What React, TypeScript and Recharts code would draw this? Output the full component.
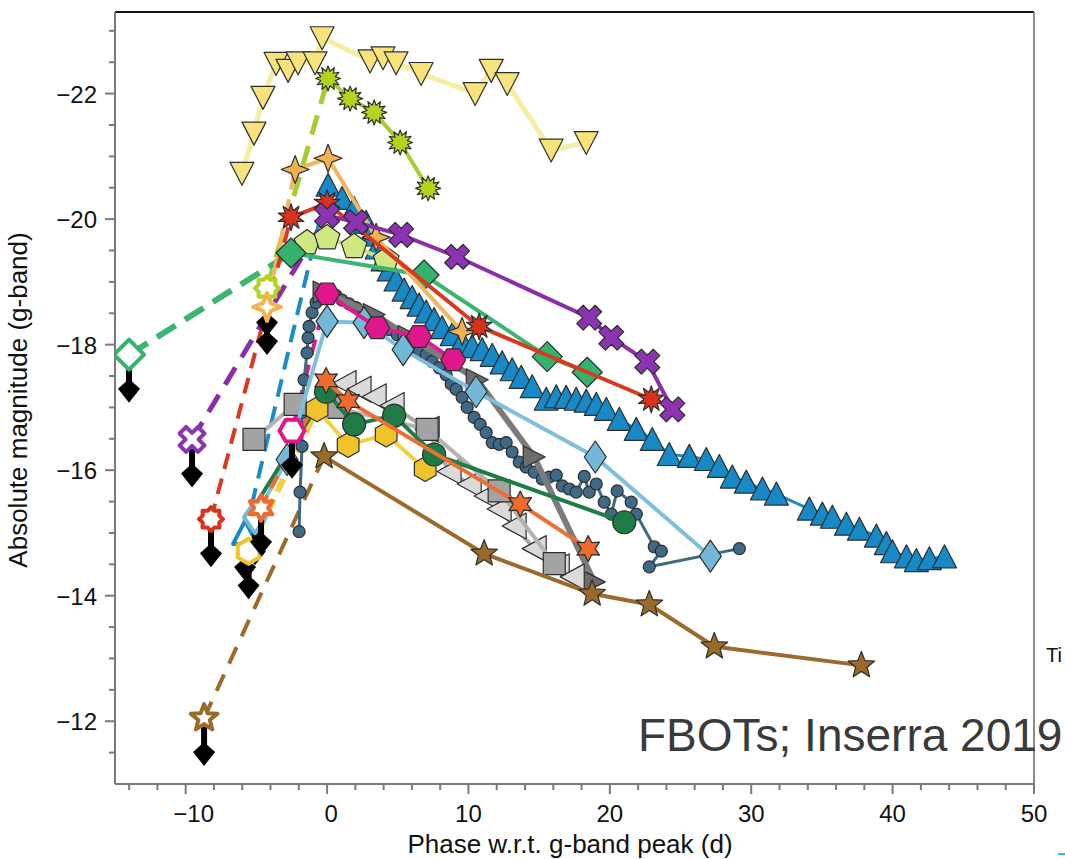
import React from 'react';
import { ScatterChart, Scatter, XAxis, YAxis, ReferenceLine } from 'recharts';

// phase (d) vs absolute g magnitude
const yellowTri = [[-6.02, -20.73], [-5.17, -21.37], [-4.53, -21.94], [-3.61, -22.48], [-2.76, -22.37], [-2.05, -22.49], [-0.85, -22.49], [-0.35, -22.89], [3.04, -22.52], [3.96, -22.57], [4.88, -22.49], [6.65, -22.32], [10.47, -22.0], [11.61, -22.37], [12.74, -22.16], [15.85, -21.1], [18.33, -21.22]];

const limeStarLimit = [[-4.25, -18.9]];
const limeStar = [[0.07, -22.24], [1.63, -21.92], [3.33, -21.7], [5.17, -21.22], [7.15, -20.49]];

const orangeStarLimit = [[-4.25, -18.6]];
const orangeStar = [[-2.26, -20.79], [0.07, -20.97], [3.47, -19.71], [9.55, -18.21]];

const blueTriLimit = [[-5.8, -15.0]];
const blueTri = [[0.07, -20.54], [1.06, -20.33], [1.91, -20.17], [2.76, -19.95], [3.11, -19.75], [3.54, -19.54], [3.96, -19.35], [4.39, -19.19], [4.88, -19.03], [5.45, -18.87], [6.02, -18.75], [6.51, -18.63], [7.01, -18.52], [7.57, -18.4], [8.14, -18.27], [8.85, -18.16], [9.55, -18.05], [10.26, -17.97], [10.97, -17.92], [11.68, -17.83], [12.38, -17.71], [13.09, -17.6], [13.73, -17.48], [14.51, -17.33], [15.5, -17.13], [16.21, -17.17], [16.91, -17.16], [17.62, -17.13], [18.33, -17.1], [19.04, -17.05], [19.75, -16.97], [20.67, -16.81], [21.87, -16.65], [23.0, -16.49], [24.2, -16.25], [25.62, -16.22], [26.82, -16.17], [27.74, -16.06], [28.66, -15.89], [29.65, -15.81], [30.79, -15.7], [31.78, -15.62], [34.11, -15.38], [35.03, -15.3], [35.74, -15.25], [36.73, -15.14], [37.65, -15.06], [38.85, -14.95], [39.56, -14.83], [39.99, -14.7], [40.98, -14.62], [41.68, -14.56], [42.6, -14.59], [43.67, -14.62]];

const redStarLimit = [[-8.21, -15.22]];
const redStar = [[-2.55, -20.03], [0.0, -20.25], [10.76, -18.29], [22.93, -17.13]];

const purpleXLimit = [[-9.55, -16.49]];
const purpleX = [[0.0, -20.06], [2.05, -19.95], [5.24, -19.75], [9.2, -19.4], [18.54, -18.43], [20.1, -18.11], [22.65, -17.73], [24.42, -16.97]];

const greenDiamondLimit = [[-14.01, -17.84]];
const greenDiamond = [[-2.55, -19.46], [6.86, -19.11], [15.57, -17.81], [18.4, -17.56]];

const palePentagon = [[-1.42, -19.62], [0.0, -19.7], [1.91, -19.56], [4.18, -19.35]];

const magentaHexLimit = [[-2.48, -16.63]];
const magentaHex = [[0.0, -18.81], [3.54, -18.27], [6.51, -18.13], [8.92, -17.76]];

const lightBlueLimit = [[-5.1, -15.25]];
const lightBlue = [[-2.83, -16.17], [0.0, -18.37], [2.62, -18.35], [5.38, -17.92], [10.54, -17.25], [18.97, -16.21], [27.11, -14.63]];

const slateDots = [[-1.98, -15.02], [-1.91, -15.65], [-1.77, -16.38], [-1.77, -16.92], [-1.63, -17.44], [-1.42, -17.87], [-1.34, -18.11], [-1.27, -18.29], [-1.06, -18.51], [-0.78, -18.67], [-0.35, -18.76], [0.14, -18.83], [0.64, -18.78], [1.06, -18.71], [1.56, -18.65], [2.05, -18.59], [2.62, -18.51], [3.18, -18.43], [3.75, -18.35], [4.39, -18.24], [4.95, -18.16], [5.45, -18.08], [6.02, -17.97], [6.51, -17.89], [7.01, -17.84], [7.43, -17.73], [7.93, -17.63], [8.42, -17.52], [8.78, -17.37], [9.13, -17.29], [9.55, -17.16], [9.91, -17.0], [10.4, -16.84], [10.83, -16.73], [11.25, -16.6], [11.68, -16.44], [12.17, -16.41], [12.67, -16.44], [13.09, -16.29], [13.59, -16.13], [14.08, -16.05], [14.65, -15.97], [15.22, -15.86], [15.71, -15.89], [16.21, -15.92], [16.63, -15.75], [17.13, -15.7], [17.62, -15.65], [18.19, -15.9], [18.54, -15.65], [19.04, -15.78], [19.6, -15.49], [20.1, -15.3], [20.52, -15.67], [21.51, -15.49], [21.87, -15.3], [23.14, -14.78], [23.64, -14.71], [22.79, -14.46], [29.16, -14.75]];

const darkGrayTri = [[-0.21, -18.84], [3.33, -18.48], [5.8, -18.13], [10.62, -17.44], [14.65, -16.21], [18.9, -14.22]];

const lightGrayTri = [[1.2, -17.38], [2.26, -17.29], [3.33, -17.17], [4.6, -17.03], [7.08, -16.65], [8.63, -15.98], [10.05, -15.78], [11.25, -15.59], [12.17, -15.38], [13.23, -15.11], [14.65, -14.75], [16.28, -14.46], [17.34, -14.3]];

const graySquare = [[-5.17, -16.49], [-2.26, -17.05], [0.5, -17.0], [7.08, -16.65], [12.17, -15.67], [16.07, -14.51]];

const orange6Limit = [[-4.67, -15.4]];
const orange6 = [[-0.07, -17.43], [1.49, -17.1], [13.66, -15.46], [18.47, -14.75]];

const darkGreenLead = [[-4.95, -15.49]];
const darkGreen = [[-0.07, -17.25], [1.91, -16.73], [4.74, -16.87], [7.57, -16.25], [21.02, -15.17]];

const goldHexLimit = [[-5.55, -14.71]];
const goldHex = [[-0.71, -16.97], [1.49, -16.4], [4.18, -16.57], [6.94, -16.02]];

const brownStarLimit = [[-8.7, -12.05]];
const brownStar = [[-0.21, -16.22], [11.11, -14.67], [18.75, -14.03], [22.79, -13.86], [27.39, -13.19], [37.79, -12.89]];

const X_TICKS = [-14, -12, -10, -8, -6, -4, -2, 0, 2, 4, 6, 8, 10, 12, 14, 16, 18, 20, 22, 24, 26, 28, 30, 32, 34, 36, 38, 40, 42, 44, 46, 48, 50];
const Y_TICKS = [-23, -22.5, -22, -21.5, -21, -20.5, -20, -19.5, -19, -18.5, -18, -17.5, -17, -16.5, -16, -15.5, -15, -14.5, -14, -13.5, -13, -12.5, -12, -11.5];

const FONT = '"Liberation Sans", Arial, Helvetica, sans-serif';
const OUTLINE = '#2e2e2e';

const toPts = (a: number[][]) => a.map(([x, y]) => ({ x, y }));

function ring(cx: number, cy: number, n: number, ro: number, ri: number | null, rot = -Math.PI / 2) {
  const count = ri == null ? n : n * 2;
  const out: string[] = [];
  for (let i = 0; i < count; i++) {
    const r = ri == null || i % 2 === 0 ? ro : ri;
    const a = rot + (i * Math.PI * 2) / count;
    out.push(`${cx + r * Math.cos(a)},${cy + r * Math.sin(a)}`);
  }
  return out.join(' ');
}

function crossPts(cx: number, cy: number, L: number, w: number) {
  const base = [[w, -L], [w, -w], [L, -w], [L, w], [w, w], [w, L], [-w, L], [-w, w], [-L, w], [-L, -w], [-w, -w], [-w, -L]];
  const c = Math.SQRT1_2;
  return base.map(([x, y]) => `${cx + (x - y) * c},${cy + (x + y) * c}`).join(' ');
}

function marker(kind: string, cx: number, cy: number, fill: string, stroke: string, sw: number) {
  const p = { fill, stroke, strokeWidth: sw, strokeLinejoin: 'round' as const };
  switch (kind) {
    case 'triDown': return <polygon points={`${cx - 12},${cy - 11} ${cx + 12},${cy - 11} ${cx},${cy + 12}`} {...p} />;
    case 'triUp': return <polygon points={`${cx},${cy - 12} ${cx + 12},${cy + 11} ${cx - 12},${cy + 11}`} {...p} />;
    case 'triLeft': return <polygon points={`${cx - 12},${cy} ${cx + 12},${cy - 13} ${cx + 12},${cy + 13}`} {...p} />;
    case 'triRight': return <polygon points={`${cx + 11},${cy} ${cx - 11},${cy - 11} ${cx - 11},${cy + 11}`} {...p} />;
    case 'star12': return <polygon points={ring(cx, cy, 12, 12.5, 7.5)} {...p} />;
    case 'star10': return <polygon points={ring(cx, cy, 10, 13.5, 7)} {...p} />;
    case 'star4': return <polygon points={ring(cx, cy, 4, 14, 5.5)} {...p} />;
    case 'star6': return <polygon points={ring(cx, cy, 6, 13, 7)} {...p} />;
    case 'star5': return <polygon points={ring(cx, cy, 5, 14, 6)} {...p} />;
    case 'gear': return <polygon points={ring(cx, cy, 8, 12, 9, -Math.PI / 2)} {...p} />;
    case 'cross': return <polygon points={crossPts(cx, cy, 13, 4.6)} {...p} />;
    case 'diamond': return <polygon points={`${cx},${cy - 15} ${cx + 15},${cy} ${cx},${cy + 15} ${cx - 15},${cy}`} {...p} />;
    case 'diamondTall': return <polygon points={`${cx},${cy - 16} ${cx + 11},${cy} ${cx},${cy + 16} ${cx - 11},${cy}`} {...p} />;
    case 'pentagon': return <polygon points={ring(cx, cy, 5, 13.5, null)} {...p} />;
    case 'hexFlat': return <polygon points={ring(cx, cy, 6, 12.5, null, 0)} {...p} />;
    case 'hexPointy': return <polygon points={ring(cx, cy, 6, 12.5, null)} {...p} />;
    case 'square': return <rect x={cx - 11} y={cy - 11} width={22} height={22} {...p} />;
    case 'circleS': return <circle cx={cx} cy={cy} r={6} {...p} />;
    case 'circleL': return <circle cx={cx} cy={cy} r={11.5} {...p} />;
    default: return <circle cx={cx} cy={cy} r={5} {...p} />;
  }
}

type Series = {
  name: string;
  data: number[][];
  kind: string;
  fill: string;
  line: string;
  lw: number;
  limit?: number[][];
  limitKind?: string;
  preDash?: string;
  preW?: number;
};

// bottom to top
const SERIES: Series[] = [
  { name: 'yellowTri', data: yellowTri, kind: 'triDown', fill: '#f8e27c', line: '#f4eda2', lw: 5 },
  { name: 'limeStar', data: limeStar, kind: 'star12', fill: '#b2d31f', line: '#a5cd32', lw: 4, limit: limeStarLimit, limitKind: 'gear', preDash: '20 12', preW: 5 },
  { name: 'blueTri', data: blueTri, kind: 'triUp', fill: '#1689c6', line: '#1b8cc8', lw: 3, limit: blueTriLimit, limitKind: 'triUp', preDash: '18 10', preW: 4 },
  { name: 'slateDots', data: slateDots, kind: 'circleS', fill: '#3e6a87', line: '#3e6983', lw: 3 },
  { name: 'darkGrayTri', data: darkGrayTri, kind: 'triRight', fill: '#6c6c6c', line: '#7b7b7b', lw: 6 },
  { name: 'lightGrayTri', data: lightGrayTri, kind: 'triLeft', fill: '#dadada', line: '#a9a9a9', lw: 4 },
  { name: 'graySquare', data: graySquare, kind: 'square', fill: '#a3a3a3', line: '#b3b3b3', lw: 4 },
  { name: 'lightBlue', data: lightBlue, kind: 'diamondTall', fill: '#74b8d7', line: '#7ec0dc', lw: 4, limit: lightBlueLimit, limitKind: 'diamondTall', preW: 4 },
  { name: 'magentaHex', data: magentaHex, kind: 'hexFlat', fill: '#e0168c', line: '#df1a8c', lw: 4, limit: magentaHexLimit, limitKind: 'hexFlat', preDash: '16 10', preW: 4 },
  { name: 'brownStar', data: brownStar, kind: 'star5', fill: '#9a6a2a', line: '#9b6a2c', lw: 4, limit: brownStarLimit, limitKind: 'star5', preDash: '18 12', preW: 4 },
  { name: 'goldHex', data: goldHex, kind: 'hexPointy', fill: '#eec42a', line: '#efd040', lw: 4, limit: goldHexLimit, limitKind: 'hexPointy', preDash: '14 8', preW: 6 },
  { name: 'darkGreen', data: darkGreen, kind: 'circleL', fill: '#1e7b45', line: '#1e7c45', lw: 4, limit: darkGreenLead, preW: 4 },
  { name: 'orange6', data: orange6, kind: 'star6', fill: '#f06a2e', line: '#ef6d33', lw: 4, limit: orange6Limit, limitKind: 'star6', preDash: '14 8', preW: 4 },
  { name: 'palePentagon', data: palePentagon, kind: 'pentagon', fill: '#cfe882', line: '#c3e387', lw: 4 },
  { name: 'greenDiamond', data: greenDiamond, kind: 'diamond', fill: '#33b36b', line: '#3cb571', lw: 4, limit: greenDiamondLimit, limitKind: 'diamond', preDash: '22 11', preW: 6 },
  { name: 'orangeStar', data: orangeStar, kind: 'star4', fill: '#f2b34f', line: '#f0b75e', lw: 4, limit: orangeStarLimit, limitKind: 'star4', preDash: '20 10', preW: 4 },
  { name: 'redStar', data: redStar, kind: 'star10', fill: '#d8321f', line: '#d9391e', lw: 4, limit: redStarLimit, limitKind: 'gear', preDash: '16 10', preW: 4 },
  { name: 'purpleX', data: purpleX, kind: 'cross', fill: '#8b33b0', line: '#8a2ea8', lw: 4, limit: purpleXLimit, limitKind: 'cross', preDash: '20 12', preW: 5 },
];

const fmt = (v: number) => (v < 0 ? `\u2212${Math.abs(v)}` : `${v}`);

const XTick = (props: any) => {
  const { x, y, payload } = props;
  const v = payload.value;
  const major = v % 10 === 0;
  const shift = v < 0 ? 8 : v === 0 ? 4 : 0;
  return (
    <g>
      <line x1={x} x2={x} y1={y} y2={y + (major ? 10 : 6)} stroke="#7a7a7a" strokeWidth={2} />
      {major && (
        <text x={x + shift} y={y + 38} textAnchor="middle" fontSize={24} fill="#111" fontFamily={FONT}>
          {fmt(v)}
        </text>
      )}
    </g>
  );
};

const YTick = (props: any) => {
  const { x, y, payload } = props;
  const v = payload.value;
  const major = Number.isInteger(v) && v % 2 === 0;
  return (
    <g>
      <line x1={x} x2={x - (major ? 10 : 6)} y1={y} y2={y} stroke="#7a7a7a" strokeWidth={2} />
      {major && (
        <text x={x - 18} y={y + 9} textAnchor="end" fontSize={24} fill="#111" fontFamily={FONT}>
          {fmt(v)}
        </text>
      )}
    </g>
  );
};

const limitShape = (s: Series) => (p: any) => {
  const { cx, cy } = p;
  return (
    <g>
      <line x1={cx} x2={cx} y1={cy + 8} y2={cy + 30} stroke="#000" strokeWidth={6} />
      <polygon points={`${cx},${cy + 24} ${cx + 11},${cy + 34} ${cx},${cy + 48} ${cx - 11},${cy + 34}`} fill="#000" />
      {marker(s.limitKind as string, cx, cy, '#fff', s.fill, 4)}
    </g>
  );
};

export default function App() {
  return (
    <div style={{ position: 'absolute', left: 0, top: 0, width: 1065, height: 859, background: '#fff' }}>
      <ScatterChart width={1065} height={859} margin={{ top: 12, right: 31, bottom: 0, left: 0 }}>
        <XAxis
          type="number"
          dataKey="x"
          domain={[-15, 50]}
          ticks={X_TICKS}
          interval={0}
          allowDataOverflow
          height={75}
          tickSize={0}
          tickMargin={0}
          tickLine={false}
          axisLine={{ stroke: '#7a7a7a', strokeWidth: 2 }}
          tick={<XTick />}
        />
        <YAxis
          type="number"
          dataKey="y"
          domain={[-23.3, -11]}
          reversed
          ticks={Y_TICKS}
          interval={0}
          allowDataOverflow
          width={115}
          tickSize={0}
          tickMargin={0}
          tickLine={false}
          axisLine={{ stroke: '#7a7a7a', strokeWidth: 2 }}
          tick={<YTick />}
        />
        <ReferenceLine y={-23.3} stroke="#111" strokeWidth={2} />
        <ReferenceLine x={50} stroke="#8a8a8a" strokeWidth={2} />

        {SERIES.filter((s) => s.limit).map((s) => (
          <Scatter
            key={`pre-${s.name}`}
            data={toPts([...(s.limit as number[][]), s.data[0]])}
            line={{ stroke: s.line, strokeWidth: s.preW, strokeDasharray: s.preDash }}
            shape={() => <g />}
            isAnimationActive={false}
          />
        ))}

        {SERIES.map((s) => (
          <Scatter
            key={s.name}
            name={s.name}
            data={toPts(s.data)}
            line={{ stroke: s.line, strokeWidth: s.lw }}
            shape={(p: any) => marker(s.kind, p.cx, p.cy, s.fill, OUTLINE, 1.2)}
            isAnimationActive={false}
          />
        ))}

        {SERIES.filter((s) => s.limit && s.limitKind).map((s) => (
          <Scatter
            key={`lim-${s.name}`}
            data={toPts(s.limit as number[][])}
            shape={limitShape(s)}
            isAnimationActive={false}
          />
        ))}
      </ScatterChart>

      <svg width={1065} height={859} style={{ position: 'absolute', left: 0, top: 0, pointerEvents: 'none' }}>
        <text x={570} y={853} textAnchor="middle" fontSize={26} fill="#111" fontFamily={FONT}>
          Phase w.r.t. g-band peak (d)
        </text>
        <text transform="translate(27,400) rotate(-90)" textAnchor="middle" fontSize={26} fill="#111" fontFamily={FONT}>
          Absolute magnitude (g-band)
        </text>
        <text x={638} y={751} fontSize={46} fill="#3a3a3a" fontFamily={FONT}>
          FBOTs; Inserra 2019
        </text>
        <text x={1046} y={662} fontSize={20} fill="#111" fontFamily={FONT}>
          Ti
        </text>
        <rect x={1058} y={853} width={7} height={2} fill="#2ac0d8" />
      </svg>
    </div>
  );
}
